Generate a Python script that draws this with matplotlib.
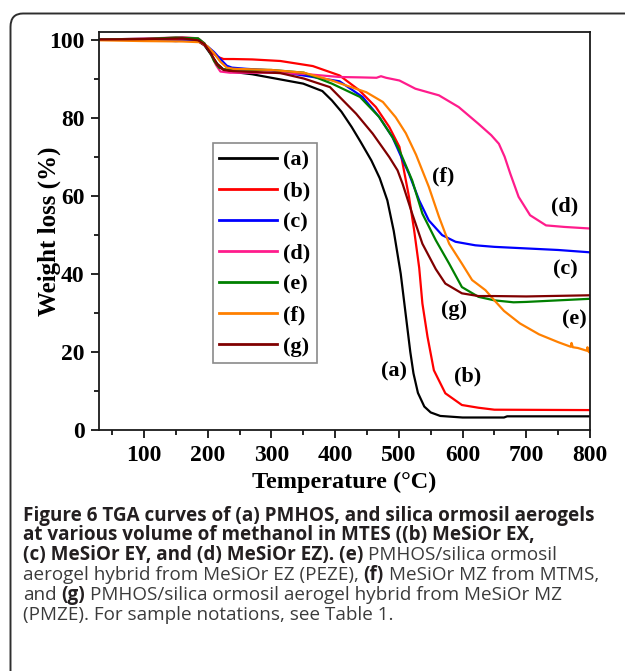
import matplotlib
matplotlib.use("Agg")
import matplotlib.pyplot as plt
from matplotlib.patches import FancyBboxPatch
from matplotlib.ticker import MultipleLocator

W_PX, H_PX = 625, 671

# ---------------- data ----------------
T_a = [30, 100, 160, 185, 195, 205, 215, 225, 240, 270, 300, 350, 380, 395, 410, 426, 440, 457, 470, 482, 492, 503, 512, 518, 523, 530, 540, 550, 565, 600, 665, 670, 800]
W_a = [100, 100.2, 100.2, 99.6, 98.5, 96.2, 93.8, 92.3, 91.7, 91.1, 90.2, 88.7, 86.8, 84.4, 81.5, 77.6, 73.8, 69, 64.5, 58.8, 51, 40, 28, 20, 14.5, 9.5, 6, 4.5, 3.6, 3.2, 3.2, 3.5, 3.5]

T_b = [30, 100, 160, 185, 195, 205, 215, 225, 240, 270, 314, 365, 407, 438, 464, 485, 501, 508, 516, 524, 532, 537, 545, 555, 573, 599, 625, 650, 800]
W_b = [100, 100.1, 100.2, 99.6, 98.6, 97.0, 95.6, 95.0, 95.0, 94.9, 94.5, 93.2, 90.8, 87, 82.7, 77.6, 72.5, 66.5, 59.7, 51.2, 41.5, 32.4, 23.9, 15.3, 9.4, 6.4, 5.7, 5.2, 5.1]

T_c = [30, 100, 150, 170, 190, 200, 210, 220, 230, 238, 260, 300, 350, 407, 443, 469, 490, 505, 516, 532, 547, 568, 589, 620, 650, 700, 750, 800]
W_c = [100, 100, 99.6, 99.8, 99.3, 98.2, 96.8, 95, 93.3, 92.8, 92.5, 92.1, 90.8, 89.3, 85.3, 80.2, 75, 69.5, 65.6, 58.8, 53.7, 49.9, 48.2, 47.3, 46.9, 46.5, 46.1, 45.5]

T_d = [30, 100, 160, 185, 195, 205, 213, 220, 235, 300, 350, 407, 440, 465, 472, 480, 501, 526, 563, 594, 625, 645, 657, 666, 675, 688, 706, 731, 760, 800]
W_d = [100, 100.2, 100.6, 100.3, 99, 96.5, 93.5, 91.8, 91.5, 91.5, 91.2, 90.4, 90.3, 90.2, 90.6, 90.2, 89.5, 87.4, 85.7, 82.7, 78.4, 75.5, 73.3, 70, 65.6, 59.7, 55, 52.4, 52, 51.6]

T_e = [30, 100, 150, 185, 195, 203, 210, 218, 225, 240, 300, 351, 395, 439, 469, 490, 501, 521, 537, 558, 579, 599, 625, 650, 680, 700, 750, 800]
W_e = [100, 100.1, 100.5, 100.3, 99, 97, 94.5, 92.8, 92.4, 92.3, 92.2, 91.5, 88.7, 85.3, 80.2, 75, 71.6, 63.9, 55.4, 48.6, 42.6, 36.6, 34.1, 33.2, 32.7, 32.8, 33.2, 33.6]

T_f = [30, 100, 160, 190, 200, 210, 220, 230, 240, 300, 351, 395, 418, 449, 475, 495, 511, 527, 547, 563, 579, 599, 615, 636, 650, 665, 690, 720, 750, 770, 771, 773, 781, 795, 796, 798, 800]
W_f = [99.8, 99.6, 99.5, 99.3, 98.2, 96.5, 94.3, 92.8, 92.5, 92.2, 91.5, 89.5, 88.2, 86.5, 84, 80.1, 76, 70.5, 62.3, 54.6, 47.7, 42.6, 38.4, 35.8, 33.2, 30.5, 27.3, 24.5, 22.5, 21.3, 22.3, 21.2, 21, 20.3, 21.2, 20, 19.8]

T_g = [30, 100, 160, 185, 195, 205, 215, 225, 240, 314, 351, 392, 433, 459, 485, 498, 506, 521, 537, 558, 573, 599, 625, 650, 700, 800]
W_g = [100, 100.1, 100.3, 99.8, 98.8, 96.5, 93.6, 92.2, 91.9, 91.4, 90, 87.8, 81, 75.9, 69.9, 66.5, 63, 55.4, 47.7, 41.2, 37.5, 35, 34.3, 34.3, 34.2, 34.5]

labels = ["(a)", "(b)", "(c)", "(d)", "(e)", "(f)", "(g)"]
colors = ["#000000", "#ff0000", "#0000ff", "#ff1c8c", "#008000", "#ff8000", "#800000"]

annot_text = ["(f)", "(d)", "(c)", "(e)", "(g)", "(a)", "(b)"]
annot_x = [570, 760, 761, 775, 586, 493, 608]
annot_y = [64.8, 57.2, 41.1, 28.2, 30.7, 14.9, 13.8]

x_ticks = [100, 200, 300, 400, 500, 600, 700, 800]
y_ticks = [0, 20, 40, 60, 80, 100]
x_label = "Temperature (°C)"
y_label = "Weight loss (%)"

caption_lines = [
    [("Figure 6 TGA curves of (a) PMHOS, and silica ormosil aerogels", True)],
    [("at various volume of methanol in MTES ((b) MeSiOr EX,", True)],
    [("(c) MeSiOr EY, and (d) MeSiOr EZ). (e)", True), ("PMHOS/silica ormosil", False)],
    [("aerogel hybrid from MeSiOr EZ (PEZE),", False), ("(f)", True), ("MeSiOr MZ from MTMS,", False)],
    [("and", False), ("(g)", True), ("PMHOS/silica ormosil aerogel hybrid from MeSiOr MZ", False)],
    [("(PMZE). For sample notations, see Table 1.", False)],
]

# ---------------- figure ----------------
fig = plt.figure(figsize=(W_PX / 100, H_PX / 100), dpi=100)

# outer rounded frame
frame = FancyBboxPatch((10.5 / W_PX, -0.2), 1.2, 1.2 - 13.5 / H_PX,
                       boxstyle="round,pad=0,rounding_size=0.02",
                       transform=fig.transFigure, fill=False,
                       edgecolor="#2e2e2e", linewidth=1.4, zorder=0)
fig.patches.append(frame)

ax_left, ax_right, ax_top, ax_bot = 99.3, 590, 31.7, 430
ax = fig.add_axes([ax_left / W_PX, 1 - ax_bot / H_PX,
                   (ax_right - ax_left) / W_PX, (ax_bot - ax_top) / H_PX])

series = [(T_a, W_a), (T_b, W_b), (T_c, W_c), (T_d, W_d), (T_e, W_e), (T_f, W_f), (T_g, W_g)]
for (tx, wy), lab, col in zip(series, labels, colors):
    ax.plot(tx, wy, color=col, lw=1.6, label=lab, solid_joinstyle="round")

ax.set_xlim(30, 800)
ax.set_ylim(0, 102)
ax.set_xticks(x_ticks)
ax.set_yticks(y_ticks)
ax.xaxis.set_minor_locator(MultipleLocator(50))
ax.yaxis.set_minor_locator(MultipleLocator(10))

serif = "Liberation Serif"
ax.tick_params(which="major", direction="out", length=6, width=1.2, pad=4.5,
               labelsize=17, top=False, right=False)
ax.tick_params(which="minor", direction="out", length=3.5, width=1.2,
               top=False, right=False)
for lab in ax.get_xticklabels() + ax.get_yticklabels():
    lab.set_fontfamily(serif)
    lab.set_fontweight("bold")
for sp in ax.spines.values():
    sp.set_linewidth(1.3)
    sp.set_color("#1a1a1a")

ax.set_xlabel(x_label, fontsize=17.5, fontweight="bold", family=serif, labelpad=4.5)
ax.set_ylabel(y_label, fontsize=18, fontweight="bold", family=serif, labelpad=-8.5)

leg = ax.legend(loc="upper left", bbox_to_anchor=((212.7 - ax_left) / (ax_right - ax_left),
                                                   (ax_bot - 143.3) / (ax_bot - ax_top)),
                prop={"family": serif, "weight": "bold", "size": 16},
                handlelength=2.6, handletextpad=0.25, labelspacing=0.47,
                borderpad=0.3, borderaxespad=0.0, fancybox=False,
                framealpha=1, edgecolor="#8a8a8a")
leg.get_frame().set_linewidth(1.2)
for h in leg.get_lines():
    h.set_linewidth(2.0)

for s, xx, yy in zip(annot_text, annot_x, annot_y):
    ax.text(xx, yy, s, fontsize=16, fontweight="bold", family=serif,
            ha="center", va="center")

# ---------------- caption ----------------
cap_font = "Open Sans"
cap_size = 13.6
renderer = fig.canvas.get_renderer()
probe1 = fig.text(0, 0, "aa", fontsize=cap_size, family=cap_font)
probe2 = fig.text(0, 0, "a a", fontsize=cap_size, family=cap_font)
space_w = probe2.get_window_extent(renderer).width - probe1.get_window_extent(renderer).width
probe1.remove(); probe2.remove()

baseline0 = 520.5
line_gap = 19.8
for i, pieces in enumerate(caption_lines):
    x = 23.0
    yb = baseline0 + i * line_gap
    for s, bold in pieces:
        t = fig.text(x / W_PX, 1 - yb / H_PX, s, fontsize=cap_size, family=cap_font,
                     fontweight="bold" if bold else "normal",
                     color="#231f20" if bold else "#3b3b3b",
                     ha="left", va="baseline")
        x += t.get_window_extent(renderer).width + space_w

fig.savefig("out.png", dpi=100)
